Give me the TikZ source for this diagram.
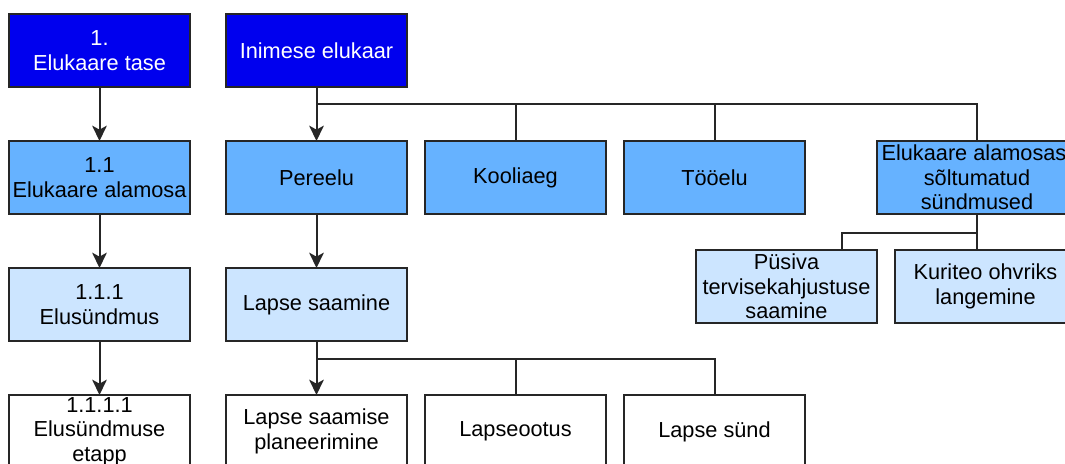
\documentclass[tikz,border=0pt]{standalone}
\usepackage{fontspec}
\setmainfont{Liberation Sans}
\usetikzlibrary{positioning}
\usetikzlibrary{arrows.meta}
\usetikzlibrary{calc}
\definecolor{pBlue}{HTML}{0000EE}
\definecolor{pMidBlue}{HTML}{66B2FF}
\definecolor{pPaleBlue}{HTML}{CCE5FF}

\begin{document}
\begin{tikzpicture}[x=0.75pt, y=0.75pt,
    box/.style={draw=black!85, line width=1.5pt, minimum width=135.75pt, minimum height=54.75pt,
      inner sep=0pt, outer sep=0pt, align=center, font=\fontsize{16.3}{18.5}\selectfont},
    level/.style={box, fill=pBlue, text=white},
    part/.style={box, fill=pMidBlue},
    event/.style={box, fill=pPaleBlue},
    stage/.style={box, fill=white},
    link/.style={line width=1.5pt, black!85},
    arrow/.style={link, -{Stealth[length=11.5pt, width=11pt, inset=3pt]}},
    node distance=40.5pt and 13.5pt]
    \useasboundingbox (0,0) rectangle (1065,-464);

    % left column: the levels
    \node[level, anchor=north west] (lvl) at (9,-14) {1.\\Elukaare tase};
    \node[part, below=of lvl] (part1) {1.1\\Elukaare alamosa};
    \node[event, below=of part1] (event1) {1.1.1\\Elusündmus};
    \node[stage, below=of event1] (stage1) {1.1.1.1\\Elusündmuse\\etapp};

    % the life course
    \node[level, right=27pt of lvl] (life) {Inimese elukaar};
    \node[part, below=of life] (family) {Pereelu};
    \node[part, right=of family] (school) {Kooliaeg};
    \node[part, right=of school] (work) {Tööelu};
    \node[part, right=54pt of work, minimum width=150pt] (indep) {Elukaare alamosast\\sõltumatud\\sündmused};
    \node[event, below=of family] (child) {Lapse saamine};
    \node[stage, below=of child] (plan) {Lapse saamise\\planeerimine};
    \node[stage, right=of plan] (wait) {Lapseootus};
    \node[stage, right=of wait] (birth) {Lapse sünd};
    \node[event, below left=27pt and 0pt of indep] (health) {Püsiva\\tervisekahjustuse\\saamine};
    \node[event, right=of health] (crime) {Kuriteo ohvriks\\langemine};

    \draw[arrow] (lvl) -- (part1);
    \draw[arrow] (part1) -- (event1);
    \draw[arrow] (event1) -- (stage1);

    \coordinate (fork1) at ([yshift=-12.75pt]life.south);
    \draw[arrow] (life) -- (family);
    \draw[link] (fork1) -| (school.north) (fork1) -| (work.north) (fork1) -| (indep.north);

    \coordinate (fork2) at ([yshift=-13.5pt]child.south);
    \draw[arrow] (family) -- (child);
    \draw[arrow] (child) -- (plan);
    \draw[link] (fork2) -| (wait.north) (fork2) -| (birth.north);

    \coordinate (fork3) at ([yshift=-14.25pt]indep.south);
    \draw[link] (indep.south) -- (indep.south |- crime.north);
    \draw[link] (fork3) -| ([xshift=41.25pt]health.north);

\end{tikzpicture}
\end{document}
